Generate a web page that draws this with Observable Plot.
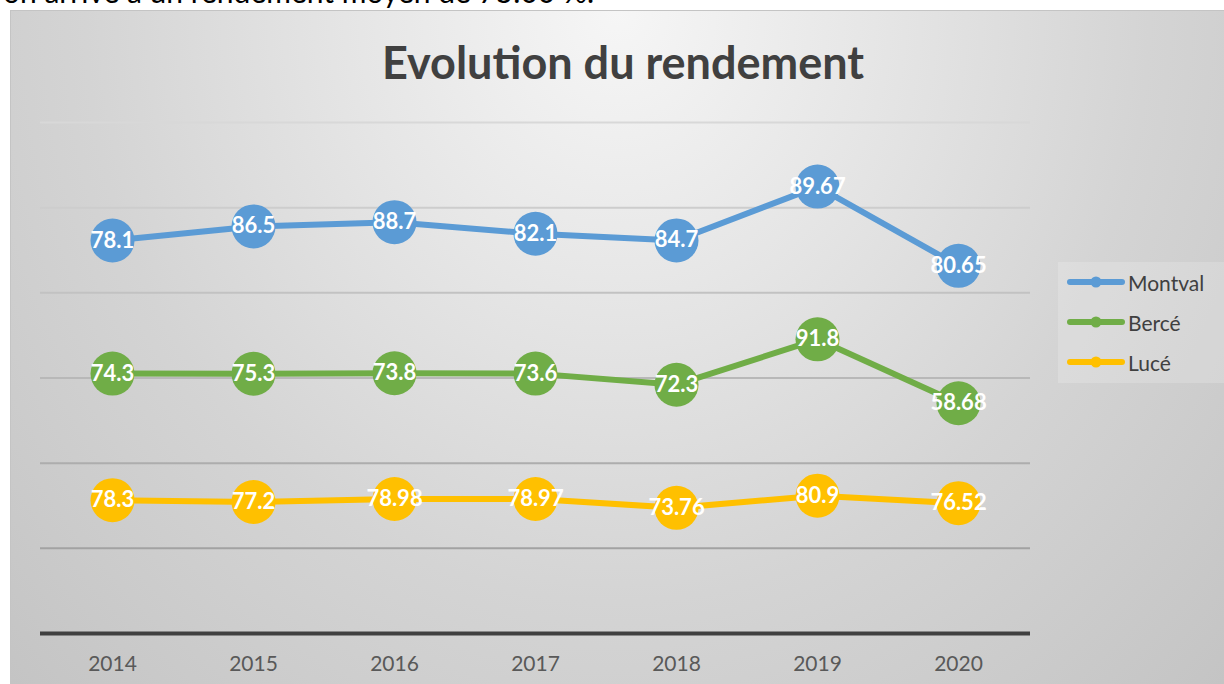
<!DOCTYPE html>
<html>
<head>
<meta charset="utf-8">
<script src="https://cdn.jsdelivr.net/npm/d3@7"></script>
<script src="https://cdn.jsdelivr.net/npm/@observablehq/plot@0.6"></script>
<style>
  html, body { margin: 0; padding: 0; background: #ffffff; width: 1224px; height: 684px; overflow: hidden; }
  #clipText { position: absolute; left: 0; top: 0; width: 1224px; height: 10px; overflow: hidden; }
  #clipText span { position: absolute; left: 3px; top: -24px; font-family: Lato, sans-serif; font-size: 30px; line-height: 30px; color: #000; white-space: nowrap; }
  #frame { position: absolute; left: 10px; top: 10px; width: 1214px; height: 674px;
    border-top: 1px solid #c4c4c4; border-left: 1px solid #c4c4c4; box-sizing: border-box;
    background: radial-gradient(ellipse farthest-corner at 50% 0%, #f6f6f6 0%, #e6e6e6 30%, #d4d4d4 62%, #c4c4c4 100%); }
  #chart { position: absolute; left: 0; top: 0; }
  #title { position: absolute; left: 0; width: 1246px; top: 35px; text-align: center; font-family: Lato, sans-serif; font-weight: bold; font-size: 45px; line-height: 54px; color: #404040; }
  #legend { position: absolute; left: 1058px; top: 262px; width: 166px; height: 121px; background: rgba(255,255,255,0.18); font-family: Lato, sans-serif; font-size: 21px; color: #404040; }
  .row { position: absolute; left: 9px; height: 30px; display: flex; align-items: center; }
  .row svg { margin-right: 3px; }
</style>
</head>
<body>
<div id="clipText"><span>on arrive à un rendement moyen de 75.00 %.</span></div>
<div id="frame"></div>
<div id="chart"></div>
<div id="title">Evolution du rendement</div>
<div id="legend"></div>
<script>
// ---- data ----
const years = ["2014", "2015", "2016", "2017", "2018", "2019", "2020"];
const seriesNames = ["Montval", "Bercé", "Lucé"];
const montval = [78.1, 86.5, 88.7, 82.1, 84.7, 89.67, 80.65];
const berce = [74.3, 75.3, 73.8, 73.6, 72.3, 91.8, 58.68];
const luce = [78.3, 77.2, 78.98, 78.97, 73.76, 80.9, 76.52];
const colors = ["#5b9bd5", "#70ad47", "#ffc000"];
const gridTicks = [50, 100, 150, 200, 250, 300];

// stacked table (Lucé bottom, then Bercé, then Montval)
const stackOrder = [["Lucé", luce], ["Bercé", berce], ["Montval", montval]];
const table = [];
years.forEach((yr, i) => {
  let cum = 0;
  for (const [name, vals] of stackOrder) {
    cum += vals[i];
    table.push({year: yr, series: name, value: vals[i], y: cum});
  }
});

const colorScale = {domain: seriesNames, range: colors};
const gridColor = d3.scaleLinear().domain([50, 300]).range(["#a2a2a2", "#d8d8d8"]);

const plot = Plot.plot({
  width: 1224,
  height: 684,
  marginLeft: 40,
  marginRight: 194,
  marginTop: 122,
  marginBottom: 51,
  style: {background: "transparent", fontFamily: "Lato, sans-serif"},
  x: {type: "point", domain: years, padding: 0.5},
  y: {domain: [0, 300], axis: null},
  color: colorScale,
  marks: [
    Plot.ruleY(gridTicks, {stroke: d => gridColor(d), strokeWidth: 2}),
    Plot.ruleY([0], {stroke: "#404040", strokeWidth: 4}),
    Plot.axisX({tickSize: 0, tickPadding: 23, fontSize: 21, fill: "#595959", label: null}),
    Plot.line(table, {x: "year", y: "y", z: "series", stroke: "series", strokeWidth: 6}),
    Plot.dot(table, {x: "year", y: "y", r: 22, fill: "series", stroke: "none"}),
    Plot.text(table, {x: "year", y: "y", text: d => String(d.value), fill: "white", fontWeight: "bold", fontSize: 22})
  ]
});
document.getElementById("chart").appendChild(plot);

// legend
const legend = document.getElementById("legend");
const rowTops = [5, 45, 85];
seriesNames.forEach((name, i) => {
  const row = document.createElement("div");
  row.className = "row";
  row.style.top = rowTops[i] + "px";
  row.innerHTML = `<svg width="58" height="14"><line x1="3" x2="55" y1="7" y2="7" stroke="${colors[i]}" stroke-width="6" stroke-linecap="round"/><circle cx="29" cy="7" r="5.5" fill="${colors[i]}"/></svg><span>${name}</span>`;
  legend.appendChild(row);
});
</script>
</body>
</html>
